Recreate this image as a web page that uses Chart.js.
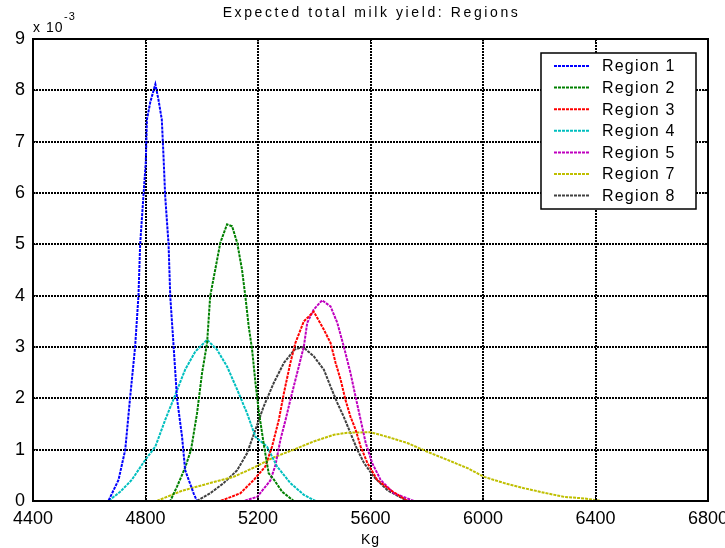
<!DOCTYPE html>
<html>
<head>
<meta charset="utf-8">
<title>Expected total milk yield: Regions</title>
<script src="https://cdn.jsdelivr.net/npm/chart.js@4.4.1/dist/chart.umd.min.js"></script>
<style>
  html, body { margin: 0; padding: 0; background: #ffffff; }
  canvas { display: block; }
</style>
</head>
<body>
<canvas id="milk" width="725" height="548"></canvas>
<script>
// Axis ticks (y values are in units of 10^-3)
const xTicks = [4400, 4800, 5200, 5600, 6000, 6400, 6800];
const yTicks = [0, 1, 2, 3, 4, 5, 6, 7, 8, 9];

const regionLabels = ['Region 1', 'Region 2', 'Region 3', 'Region 4', 'Region 5', 'Region 7', 'Region 8'];
const regionColors = ['#0000ff', '#008000', '#ff0000', '#00bfbf', '#bf00bf', '#bfbf00', '#404040'];

// Density curves: milk yield (kg) and density (x 10^-3)
const r1Kg  = [4400, 4668, 4704, 4728, 4745, 4763, 4775, 4781, 4793, 4801, 4805, 4817, 4835, 4846, 4858, 4864, 4870, 4882, 4888, 4900, 4912, 4930, 4941, 4971, 4983, 6800];
const r1Val = [0, 0, 0.41, 1.0, 2.0, 3.0, 4.0, 5.0, 5.97, 6.6, 7.43, 7.77, 8.12, 7.82, 7.43, 6.72, 5.94, 5.0, 3.99, 3.01, 2.0, 1.25, 0.6, 0.15, 0, 0];

const r2Kg  = [4400, 4888, 4912, 4941, 4962, 4983, 5001, 5019, 5030, 5048, 5066, 5090, 5108, 5126, 5143, 5155, 5167, 5179, 5191, 5202, 5222, 5238, 5256, 5286, 5327, 6800];
const r2Val = [0, 0, 0.28, 0.65, 1.0, 1.7, 2.49, 3.08, 3.99, 4.51, 5.03, 5.39, 5.35, 5.03, 4.51, 3.99, 3.4, 2.95, 2.3, 1.78, 1.05, 0.54, 0.42, 0.18, 0, 0];

const r3Kg  = [4400, 5066, 5090, 5137, 5185, 5226, 5250, 5274, 5292, 5315, 5333, 5363, 5398, 5434, 5458, 5476, 5494, 5511, 5529, 5547, 5565, 5589, 5624, 5672, 5731, 6800];
const r3Val = [0, 0, 0.05, 0.15, 0.41, 0.67, 1.06, 1.58, 2.1, 2.69, 3.08, 3.5, 3.69, 3.34, 3.08, 2.69, 2.36, 1.97, 1.64, 1.39, 1.06, 0.74, 0.41, 0.21, 0, 0];

const r4Kg  = [4400, 4668, 4710, 4751, 4799, 4835, 4870, 4906, 4941, 4977, 5019, 5054, 5090, 5126, 5161, 5191, 5232, 5268, 5315, 5363, 5404, 6800];
const r4Val = [0, 0, 0.18, 0.41, 0.8, 1.06, 1.58, 2.07, 2.56, 2.91, 3.14, 2.95, 2.62, 2.17, 1.71, 1.25, 1.06, 0.67, 0.35, 0.12, 0, 0];

const r5Kg  = [4400, 5149, 5197, 5244, 5262, 5280, 5298, 5315, 5339, 5363, 5375, 5398, 5428, 5458, 5482, 5505, 5529, 5547, 5565, 5583, 5606, 5636, 5683, 5755, 6800];
const r5Val = [0, 0, 0.08, 0.4, 0.7, 1.2, 1.58, 1.97, 2.49, 3.01, 3.47, 3.73, 3.91, 3.79, 3.47, 3.01, 2.49, 2.03, 1.58, 1.13, 0.74, 0.41, 0.15, 0, 0];

const r7Kg  = [4400, 4840, 4930, 5030, 5113, 5185, 5256, 5327, 5398, 5470, 5517, 5600, 5660, 5731, 5802, 5874, 5945, 6004, 6075, 6146, 6218, 6289, 6360, 6420, 6800];
const r7Val = [0, 0, 0.2, 0.35, 0.47, 0.65, 0.85, 1.0, 1.16, 1.29, 1.33, 1.34, 1.25, 1.13, 0.96, 0.8, 0.64, 0.47, 0.35, 0.25, 0.16, 0.08, 0.05, 0, 0];

const r8Kg  = [4400, 4983, 5030, 5078, 5126, 5161, 5191, 5220, 5256, 5292, 5330, 5360, 5398, 5434, 5458, 5482, 5505, 5529, 5553, 5577, 5612, 5660, 5731, 6800];
const r8Val = [0, 0, 0.15, 0.35, 0.6, 0.93, 1.39, 1.84, 2.3, 2.69, 2.95, 3.0, 2.82, 2.56, 2.23, 1.91, 1.64, 1.32, 1.0, 0.74, 0.47, 0.21, 0, 0];

const regionKg  = [r1Kg, r2Kg, r3Kg, r4Kg, r5Kg, r7Kg, r8Kg];
const regionVal = [r1Val, r2Val, r3Val, r4Val, r5Val, r7Val, r8Val];

const FONT = "'Liberation Sans', Arial, Helvetica, sans-serif";
const LINE_DASH = [3, 1];

const datasets = regionLabels.map((label, i) => ({
  label,
  data: regionKg[i].map((kg, j) => ({ x: kg, y: regionVal[i][j] })),
  borderColor: regionColors[i],
  backgroundColor: regionColors[i],
  borderWidth: 2,
  borderDash: LINE_DASH,
  pointRadius: 0,
  tension: 0,
  fill: false
}));

// Frame, inward ticks, title, exponent label, axis label and boxed legend
const decorations = {
  id: 'decorations',
  afterDatasetsDraw(chart) {
    const { ctx, chartArea: a, scales } = chart;
    const seg = (x1, y1, x2, y2) => { ctx.beginPath(); ctx.moveTo(x1, y1); ctx.lineTo(x2, y2); ctx.stroke(); };
    ctx.save();
    ctx.setLineDash([]);
    ctx.strokeStyle = '#000';
    ctx.lineWidth = 1;
    xTicks.forEach(v => {
      const px = scales.x.getPixelForValue(v);
      seg(px, a.bottom, px, a.bottom - 5);
      seg(px, a.top, px, a.top + 5);
    });
    yTicks.forEach(v => {
      const py = scales.y.getPixelForValue(v);
      seg(a.left, py, a.left + 5, py);
      seg(a.right, py, a.right - 5, py);
    });
    ctx.lineWidth = 2;
    ctx.strokeRect(a.left, a.top, a.right - a.left, a.bottom - a.top);

    // legend box
    const lx = 541, ly = 53, lw = 155, lh = 156;
    ctx.fillStyle = '#fff';
    ctx.fillRect(lx, ly, lw, lh);
    ctx.lineWidth = 1.5;
    ctx.strokeRect(lx, ly, lw, lh);
    ctx.font = '16px ' + FONT;
    ctx.textBaseline = 'middle';
    ctx.textAlign = 'left';
    ctx.letterSpacing = '1.2px';
    regionLabels.forEach((label, i) => {
      const y = 66 + i * 21.6;
      ctx.strokeStyle = regionColors[i];
      ctx.lineWidth = 2;
      ctx.setLineDash(LINE_DASH);
      seg(554, y, 590, y);
      ctx.setLineDash([]);
      ctx.fillStyle = '#000';
      ctx.fillText(label, 602, y + 1);
    });
    ctx.restore();
  },
  afterDraw(chart) {
    const { ctx, chartArea: a } = chart;
    ctx.save();
    ctx.fillStyle = '#000';
    ctx.textBaseline = 'alphabetic';
    ctx.textAlign = 'center';
    ctx.font = '14px ' + FONT;
    ctx.letterSpacing = '2.6px';
    ctx.fillText('Expected total milk yield: Regions', (a.left + a.right) / 2 + 1, 17);
    ctx.letterSpacing = '1px';
    ctx.font = '14px ' + FONT;
    ctx.fillText('Kg', (a.left + a.right) / 2, 544);
    ctx.textAlign = 'left';
    ctx.fillText('x 10', 33, 32);
    ctx.font = '11px ' + FONT;
    ctx.fillText('-3', 64, 20);
    ctx.restore();
  }
};

new Chart(document.getElementById('milk'), {
  type: 'line',
  data: { datasets },
  options: {
    responsive: false,
    animation: false,
    devicePixelRatio: 1,
    layout: { padding: { top: 39, right: 17, left: 0, bottom: 0 } },
    plugins: {
      legend: { display: false },
      title: { display: false },
      tooltip: { enabled: false }
    },
    scales: {
      x: {
        type: 'linear',
        min: 4400,
        max: 6800,
        afterBuildTicks: s => { s.ticks = xTicks.map(v => ({ value: v })); },
        afterFit: s => { s.height = 47; s.paddingLeft = 0; s.paddingRight = 0; },
        ticks: { color: '#000', font: { family: FONT, size: 18 }, padding: 7, maxRotation: 0, callback: v => String(v) },
        grid: { color: '#000', lineWidth: 2, drawTicks: false },
        border: { display: false, dash: [2, 1] }
      },
      y: {
        type: 'linear',
        min: 0,
        max: 9,
        afterBuildTicks: s => { s.ticks = yTicks.map(v => ({ value: v })); },
        afterFit: s => { s.width = 33; s.paddingTop = 0; s.paddingBottom = 0; },
        ticks: { color: '#000', font: { family: FONT, size: 18 }, padding: 8, callback: v => String(v) },
        grid: { color: '#000', lineWidth: 2, drawTicks: false },
        border: { display: false, dash: [2, 1] }
      }
    }
  },
  plugins: [decorations]
});
</script>
</body>
</html>
